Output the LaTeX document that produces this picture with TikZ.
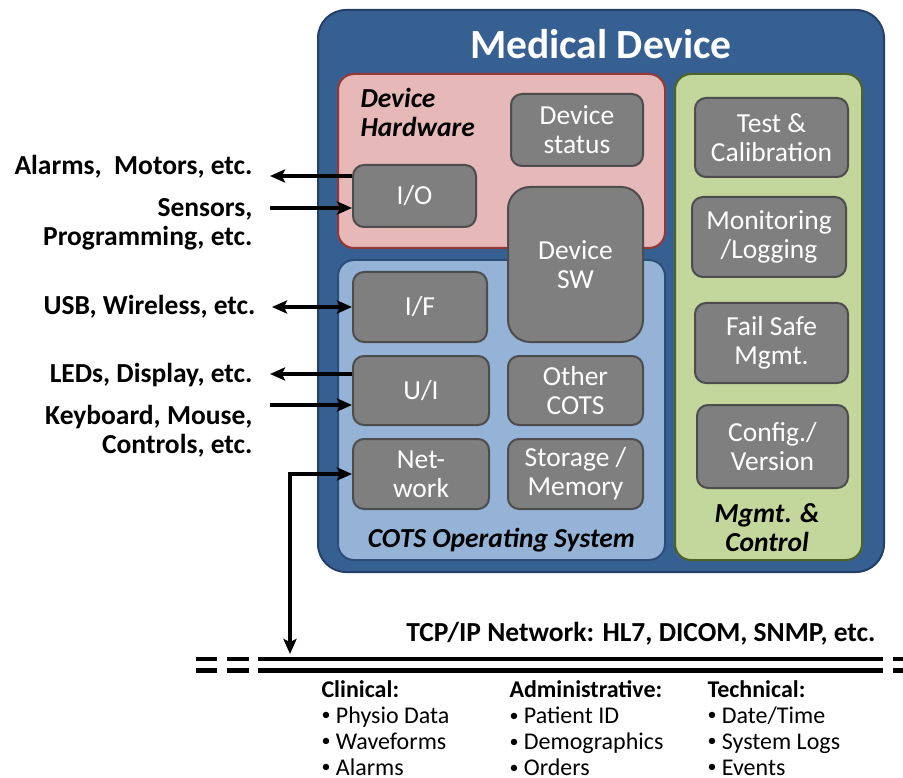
\documentclass[tikz,border=0pt]{standalone}
\usepackage{fontspec}
\usepackage{graphicx}
\setmainfont{Carlito}
\usetikzlibrary{arrows.meta,positioning}
\definecolor{DevClr}{RGB}{55,96,146}
\definecolor{DevLine}{RGB}{36,64,104}
\definecolor{HwClr}{RGB}{230,184,183}
\definecolor{HwLine}{RGB}{149,55,53}
\definecolor{OsClr}{RGB}{149,179,215}
\definecolor{OsLine}{RGB}{44,77,117}
\definecolor{MgClr}{RGB}{195,214,155}
\definecolor{MgLine}{RGB}{79,98,40}
\definecolor{BoxClr}{RGB}{127,127,127}
\definecolor{BoxLine}{RGB}{77,77,77}
\newcommand{\itm}{\raisebox{.1em}{\scalebox{.75}{\textbullet}}\ }

\begin{document}
\begin{tikzpicture}[x=1pt,y=-1pt,
  area/.style={draw,line width=2pt,rounded corners=16pt,inner sep=0pt},
  unit/.style={draw=BoxLine,fill=BoxClr,line width=2pt,rounded corners=11pt,
    text=white,align=center,inner sep=0pt,font=\fontsize{27.5}{29}\selectfont},
  side/.style={anchor=east,align=right,font=\bfseries\fontsize{27.5}{29}\selectfont},
  lst/.style={anchor=north west,align=left,font=\fontsize{24}{26}\selectfont},
  link/.style={line width=3.5pt,-{Stealth[length=15pt,width=13pt,inset=3pt]}},
  twoway/.style={line width=3.5pt,{Stealth[length=15pt,width=13pt,inset=3pt]}-{Stealth[length=15pt,width=13pt,inset=3pt]}},
  bus/.style={line width=4.5pt}]
\useasboundingbox (0,0) rectangle (903,778);

\node[area,draw=DevLine,fill=DevClr,rounded corners=28pt,minimum width=566,minimum height=562] (dev) at (601,291) {};
\node[text=white,font=\bfseries\fontsize{41.5}{44}\selectfont] (devt) at (601,44) {Medical Device};

\node[area,draw=HwLine,fill=HwClr,minimum width=327,minimum height=174] (hw) at (501.5,161) {};
\node[area,draw=OsLine,fill=OsClr,minimum width=327,minimum height=300] (os) at (501.5,410) {};
\node[area,draw=MgLine,fill=MgClr,minimum width=187,minimum height=486] (mg) at (768.5,317) {};

\node[anchor=west,align=left,font=\bfseries\itshape\fontsize{27.5}{29}\selectfont] (hwt) at (357,112.5) {Device\\Hardware};
\node[font=\bfseries\itshape\fontsize{27.5}{29}\selectfont] (ost) at (501.5,540) {COTS Operating System};
\node[align=center,font=\bfseries\itshape\fontsize{27.5}{29}\selectfont] (mgt) at (767,527.5) {Mgmt. \&\\Control};

\node[unit,minimum width=132,minimum height=72] (stat) at (577,130) {Device\\status};
\node[unit,minimum width=123,minimum height=62] (io) at (414.5,196) {I/O};
\node[unit,minimum width=135,minimum height=155,rounded corners=22pt] (sw) at (575.5,264.5) {Device\\SW};
\node[unit,minimum width=134,minimum height=70] (if) at (420,307) {I/F};
\node[unit,minimum width=136,minimum height=69] (ui) at (421,390.5) {U/I};
\node[unit,minimum width=135,minimum height=69] (oth) at (575.5,390.5) {Other\\COTS};
\node[unit,minimum width=136,minimum height=70] (nw) at (421,474) {Net-\\work};
\node[unit,minimum width=135,minimum height=70] (sto) at (575.5,474) {Storage /\\Memory};

\node[unit,minimum width=153,minimum height=79] (test) at (771.5,137.5) {Test \&\\Calibration};
\node[unit,minimum width=154,minimum height=80] (mon) at (769,237) {Monitoring\\/Logging};
\node[unit,minimum width=153,minimum height=80] (fail) at (771.5,343) {Fail Safe\\Mgmt.};
\node[unit,minimum width=151,minimum height=83] (cfg) at (772.5,446.5) {Config./\\Version};

\node[side] (alm) at (256,167) {Alarms,\ \ Motors, etc.};
\node[side] (sen) at (256,224.5) {Sensors,\\Programming, etc.};
\node[side] (usb) at (259,307) {USB, Wireless, etc.};
\node[side] (led) at (256,375) {LEDs, Display, etc.};
\node[side] (kbd) at (256,431) {Keyboard, Mouse,\\Controls, etc.};

\coordinate (almend) at (270,176);
\coordinate (senend) at (270,208);
\coordinate (usbend) at (272,307);
\coordinate (ledend) at (270,374);
\coordinate (kbdend) at (270,405);
\coordinate (tap) at (290,654);
\coordinate (bend) at (290,474);

\draw[link] (io.west |- almend) -- (almend);
\draw[link] (senend) -- (io.west |- senend);
\draw[twoway] (usbend) -- (if.west |- usbend);
\draw[link] (ui.west |- ledend) -- (ledend);
\draw[link] (kbdend) -- (ui.west |- kbdend);
\draw[twoway] (tap) -- (bend) -- (nw.west |- bend);

\foreach \y in {659,670.5}{
  \draw[bus] (196,\y) -- (217,\y);
  \draw[bus] (227,\y) -- (249,\y);
  \draw[bus] (258,\y) -- (883,\y);
  \draw[bus] (893,\y) -- (905,\y);
}
\node[anchor=east,font=\bfseries\fontsize{27.5}{29}\selectfont] (tcp) at (879,634) {TCP/IP Network: HL7, DICOM, SNMP, etc.};

\node[lst] (clin) at (318,677) {\textbf{Clinical:}\\\itm Physio Data\\\itm Waveforms\\\itm Alarms};
\node[lst] (adm) at (506,677) {\textbf{Administrative:}\\\itm Patient ID\\\itm Demographics\\\itm Orders};
\node[lst] (tech) at (704,677) {\textbf{Technical:}\\\itm Date/Time\\\itm System Logs\\\itm Events};

\end{tikzpicture}
\end{document}
